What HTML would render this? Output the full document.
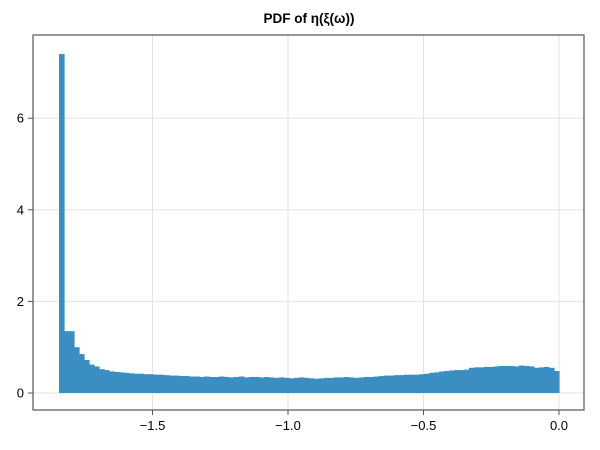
<!DOCTYPE html>
<html><head><meta charset="utf-8">
<style>body{margin:0;background:#fff}svg{display:block;font-family:"Liberation Sans",sans-serif}</style>
</head><body>
<svg id="chart" width="600" height="450">
<text x="309" y="23" text-anchor="middle" font-size="13.5" font-weight="bold">PDF of η(ξ(ω))</text>
<g id="grid"></g>
<g id="bars"></g>
<rect x="33" y="35" width="551" height="375" fill="none" stroke="#555" stroke-width="1.2"/>
<g id="ticks"></g>
</svg>
<script>
const binStart = -1.845;
const binEnd = 0;
const densities = [7.4,1.35,1.35,1.0,0.85,0.72,0.62,0.58,0.52,0.5,0.47,0.46,0.45,0.44,0.43,0.42,0.42,0.41,0.41,0.40,
0.40,0.39,0.38,0.38,0.37,0.37,0.36,0.36,0.35,0.36,0.35,0.35,0.36,0.35,0.34,0.35,0.36,0.34,0.35,0.35,
0.34,0.35,0.34,0.33,0.34,0.33,0.32,0.33,0.34,0.33,0.32,0.31,0.32,0.33,0.33,0.34,0.34,0.35,0.34,0.33,
0.34,0.35,0.35,0.36,0.37,0.38,0.38,0.39,0.39,0.40,0.40,0.40,0.41,0.42,0.44,0.45,0.47,0.48,0.49,0.50,
0.50,0.51,0.55,0.56,0.56,0.57,0.57,0.58,0.59,0.59,0.59,0.58,0.60,0.59,0.58,0.55,0.56,0.57,0.55,0.48];
const xTicks = [-1.5,-1.0,-0.5,0.0];
const xTickLabels = ["−1.5","−1.0","−0.5","0.0"];
const yTicks = [0,2,4,6];
const yTickLabels = ["0","2","4","6"];

const NS="http://www.w3.org/2000/svg";
const xs = v => 559 + v*271;
const ys = v => 393 - v*45.8;
function mk(tag, attrs, parent){const e=document.createElementNS(NS,tag);for(const k in attrs)e.setAttribute(k,attrs[k]);document.getElementById(parent).appendChild(e);return e;}

xTicks.forEach((t,i)=>{
  const g=mk('line',{x1:xs(t),x2:xs(t),y1:35,y2:410,stroke:'#e3e3e3','stroke-width':1},'grid');
  
  
  const tk=mk('line',{x1:xs(t),x2:xs(t),y1:410,y2:415,stroke:'#555'},'ticks');
  
  
  const tx=mk('text',{x:xs(t),y:430,'text-anchor':'middle','font-size':13},'ticks');
  tx.textContent=xTickLabels[i];
  
  
});
yTicks.forEach((t,i)=>{
  const g=mk('line',{x1:33,x2:584,y1:ys(t),y2:ys(t),stroke:'#e3e3e3','stroke-width':1},'grid');
  
  
  const tk=mk('line',{x1:28,x2:33,y1:ys(t),y2:ys(t),stroke:'#555'},'ticks');
  
  
  const tx=mk('text',{x:24,y:ys(t)+4.5,'text-anchor':'end','font-size':13},'ticks');
  tx.textContent=yTickLabels[i];
  
  
});
const w=(binEnd-binStart)/densities.length;
densities.forEach((d,i)=>{
  const x0=xs(binStart+i*w), x1=xs(binStart+(i+1)*w);
  const r=mk('rect',{x:x0,y:ys(d),width:x1-x0+0.6,height:ys(0)-ys(d),fill:'#3a8ec2'},'bars');
  
  
});
</script>
</body></html>
